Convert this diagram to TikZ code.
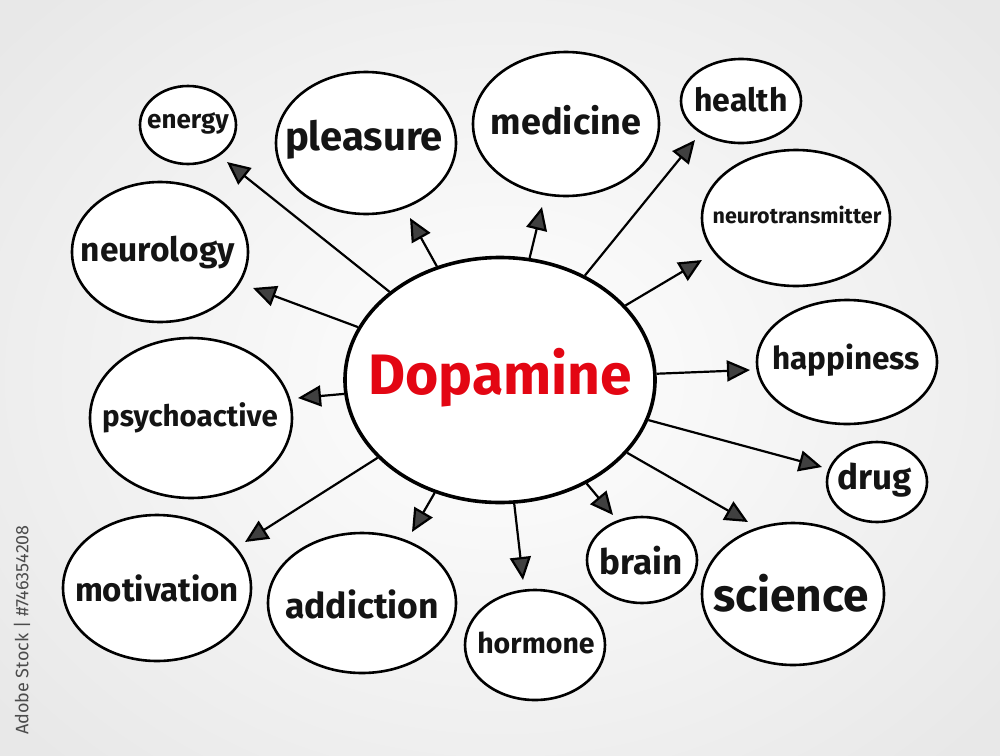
\documentclass[tikz,border=0pt]{standalone}
\usepackage{fontspec}
\setmainfont{Fira Sans}
\usetikzlibrary{shapes.geometric,arrows.meta}
\definecolor{dopred}{HTML}{E30613}
\begin{document}
\begin{tikzpicture}[x=1pt,y=-1pt,
  bub/.style={draw=black, line width=2.6pt, ellipse, inner sep=0pt, fill=white},
  lbl/.style={font=\bfseries\fontsize{#1}{#1}\selectfont, text=black!92, inner sep=0pt},
  arr/.style={line width=2.2pt, -{Triangle[length=23pt,width=21pt,fill=black!75]}},
]
\useasboundingbox (0,0) rectangle (1000,755);
\shade[inner color=white, outer color=black!9] (-150,-150) rectangle (1150,905);

% centre
\node[bub, line width=3.6pt, minimum width=310pt, minimum height=245pt] (dop) at (500,380) {};
\node[font=\bfseries\fontsize{57}{57}\selectfont, text=dopred] (doptxt) at (500,378) {Dopamine};

% bubbles
\node[bub, minimum width=96pt,  minimum height=78pt]  (energy) at (188,125) {};
\node[bub, minimum width=180pt, minimum height=142pt] (pleasure) at (366,143) {};
\node[bub, minimum width=186pt, minimum height=144pt] (medicine) at (566,124) {};
\node[bub, minimum width=120pt, minimum height=84pt]  (health) at (741,101) {};
\node[bub, minimum width=188pt, minimum height=136pt] (neuro) at (796,218) {};
\node[bub, minimum width=176pt, minimum height=140pt] (neurology) at (160,252) {};
\node[bub, minimum width=180pt, minimum height=124pt] (happiness) at (847,362) {};
\node[bub, minimum width=202pt, minimum height=160pt] (psycho) at (191,418) {};
\node[bub, minimum width=100pt, minimum height=80pt]  (drug) at (877,482) {};
\node[bub, minimum width=188pt, minimum height=146pt] (motivation) at (157,588) {};
\node[bub, minimum width=188pt, minimum height=140pt] (addiction) at (362,603) {};
\node[bub, minimum width=140pt, minimum height=110pt] (hormone) at (535,645) {};
\node[bub, minimum width=110pt, minimum height=86pt]  (brain) at (642,560) {};
\node[bub, minimum width=182pt, minimum height=142pt] (science) at (793,594) {};

% labels
\node[lbl=26] at (188,123) {energy};
\node[lbl=40] at (364,140) {pleasure};
\node[lbl=36] at (566,120) {medicine};
\node[lbl=32] at (741,100) {health};
\node[lbl=21.5] at (797,215) {neurotransmitter};
\node[lbl=33.5] at (158,253) {neurology};
\node[lbl=31.5] at (846,360) {happiness};
\node[lbl=29.5] at (190,418) {psychoactive};
\node[lbl=35] at (875,480) {drug};
\node[lbl=33] at (157,588) {motivation};
\node[lbl=35.5] at (362,604) {addiction};
\node[lbl=28.5] at (536,643) {hormone};
\node[lbl=35] at (641,561) {brain};
\node[lbl=46] at (791,593) {science};

% arrow tips
\coordinate (tEnergy) at (227,162);
\coordinate (tPleasure) at (410,218);
\coordinate (tMedicine) at (542,207);
\coordinate (tHealth) at (695,140);
\coordinate (tNeuro) at (702,260);
\coordinate (tNeurology) at (253,288);
\coordinate (tPsycho) at (298,398);
\coordinate (tHappiness) at (750,370);
\coordinate (tDrug) at (822,467);
\coordinate (tScience) at (748,522);
\coordinate (tBrain) at (613,515);
\coordinate (tHormone) at (523,580);
\coordinate (tAddiction) at (412,532);
\coordinate (tMotivation) at (245,542);

\foreach \t in {tEnergy,tPleasure,tMedicine,tHealth,tNeuro,tNeurology,tPsycho,tHappiness,tDrug,tScience,tBrain,tHormone,tAddiction,tMotivation}
  \draw[arr] (dop) -- (\t);

% stock label
\node[rotate=90, text=black!70, font=\fontsize{18}{18}\selectfont] (stock) at (22,630) {Adobe Stock | \#746354208};
\end{tikzpicture}
\end{document}
